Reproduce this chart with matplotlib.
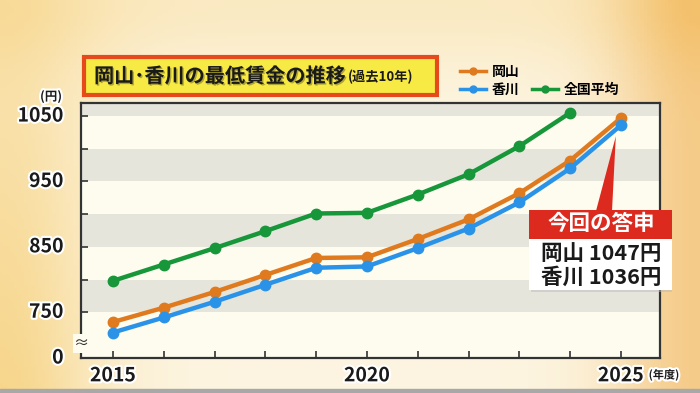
import numpy as np
import matplotlib
matplotlib.use("Agg")
import matplotlib.pyplot as plt
from matplotlib.patches import Rectangle, Polygon
from matplotlib.lines import Line2D
import matplotlib.patheffects as pe

plt.rcParams['font.family'] = ['Noto Sans CJK JP', 'DejaVu Sans']

# data: minimum wage (yen) per fiscal year
years = [2015, 2016, 2017, 2018, 2019, 2020, 2021, 2022, 2023, 2024, 2025]
okayama = [735, 757, 781, 807, 833, 834, 862, 892, 932, 982, 1047]
kagawa = [719, 742, 766, 792, 818, 820, 848, 878, 918, 970, 1036]
national_years = [2015, 2016, 2017, 2018, 2019, 2020, 2021, 2022, 2023, 2024]
national = [798, 823, 848, 874, 901, 902, 930, 961, 1004, 1055]

ytick_vals = [680, 750, 850, 950, 1050]
ytick_labels = ['0', '750', '850', '950', '1050']
xtick_labels = {2015: '2015', 2020: '2020', 2025: '2025'}

c_oka = '#e07a1e'
c_kag = '#2a93e8'
c_nat = '#17963a'

W, H = 700, 393
fig = plt.figure(figsize=(W / 100, H / 100), dpi=100)

def fx(px):
    return px / W

def fy(py):
    return 1 - py / H

# warm blurred background
bg = fig.add_axes([0, 0, 1, 1], zorder=-10)
gx = np.linspace(0, 1, 200)
gy = np.linspace(0, 1, 120)
X, Y = np.meshgrid(gx, gy)
base = np.array([0.99, 0.96, 0.88])
warm_l = np.array([0.97, 0.84, 0.55])
warm_r = np.array([0.96, 0.78, 0.50])
wl = np.exp(-((X - 0.0) ** 2) / 0.02) * (0.5 + 0.5 * Y)
wr = np.exp(-((X - 1.0) ** 2) / 0.015) * 0.9
wt = np.exp(-((Y - 0.0) ** 2) / 0.03) * 0.35
img = base[None, None, :] * (1 - wl - wr - wt)[..., None] \
    + warm_l[None, None, :] * (wl + wt)[..., None] + warm_r[None, None, :] * wr[..., None]
img = np.clip(img, 0, 1)
bg.imshow(img, aspect='auto', extent=[0, 1, 0, 1], origin='upper')
bg.axis('off')
bg.add_patch(Rectangle((0, 0), 1, fy(389), color='#a8a8a8', transform=bg.transAxes))

ax = fig.add_axes([fx(81), fy(358), fx(660) - fx(81), fy(103) - fy(358)])
ax.set_facecolor('#fdfcef')
ax.set_xlim(2014.37, 2025.77)
ax.set_ylim(680, 1070)

# grey bands
for lo in [750, 850, 950, 1050]:
    ax.axhspan(lo, lo + 50, color='#e6e5dc', lw=0, zorder=0)

lw = 3.2
ms = 7.5
ax.plot(national_years, national, color=c_nat, lw=lw, marker='o', ms=ms, zorder=3)
ax.plot(years, okayama, color=c_oka, lw=lw, marker='o', ms=ms, zorder=4)
ax.plot(years, kagawa, color=c_kag, lw=lw, marker='o', ms=ms, zorder=5)

for s in ax.spines.values():
    s.set_color('#333333')
    s.set_linewidth(1.6)

stroke = [pe.withStroke(linewidth=3, foreground='white')]
ax.set_xticks(years)
ax.set_xticklabels([xtick_labels.get(y, '') for y in years], fontsize=14,
                   fontweight='bold', color='#1a1a1a')
ax.set_yticks(list(range(700, 1070, 50)))
ax.set_yticklabels([])
ax.tick_params(axis='both', direction='in', length=5, width=1.2, color='#333333')
ax.tick_params(axis='x', pad=6)
for t in ax.get_xticklabels():
    t.set_path_effects(stroke)
for v, lab in zip(ytick_vals, ytick_labels):
    ax.text(-0.03, (v - 680) / 390, lab, transform=ax.transAxes, ha='right', va='center',
            fontsize=14, fontweight='bold', color='#1a1a1a', path_effects=stroke)
ax.text(2014.37, 702, '≈', ha='center', va='center', fontsize=11, color='#333333',
        bbox=dict(boxstyle='square,pad=0.05', fc='#fdfcef', ec='none'), zorder=6, clip_on=False)

fig.text(fx(51), fy(97), '(円)', ha='center', va='center', fontsize=9, fontweight='bold',
         color='#1a1a1a', path_effects=stroke)
fig.text(fx(664), fy(375), '(年度)', ha='center', va='center', fontsize=8, fontweight='bold',
         color='#1a1a1a', path_effects=stroke)

# title box
fig.patches.append(Rectangle((fx(84), fy(95)), fx(437) - fx(84), fy(57) - fy(95),
                             transform=fig.transFigure, fc='#f8ea45', ec='#e64a1c', lw=3))
t1 = fig.text(fx(94), fy(76), '岡山･香川の最低賃金の推移', ha='left', va='center',
              fontsize=14.5, fontweight='bold', color='#1a1a1a',
              path_effects=[pe.withSimplePatchShadow(offset=(1, -1), alpha=0.3)])
fig.canvas.draw()
ext = t1.get_window_extent()
fig.text(ext.x1 / W + 0.003, fy(77), '(過去10年)', ha='left', va='center', fontsize=9.5,
         fontweight='bold', color='#1a1a1a')

# legend
handles = [
    Line2D([], [], color=c_oka, lw=2.5, marker='o', ms=5),
    Line2D([], [], color=c_kag, lw=2.5, marker='o', ms=5),
    Line2D([], [], color='none'),
    Line2D([], [], color=c_nat, lw=2.5, marker='o', ms=5),
]
labels = ['岡山', '香川', '', '全国平均']
leg = fig.legend(handles, labels, ncol=2, loc='upper left', bbox_to_anchor=(fx(447), fy(52)),
                 frameon=False, handlelength=1.9, handletextpad=0.4, columnspacing=0.9,
                 labelspacing=0.3, prop=dict(size=10, weight='bold'))

# annotation callout
fig.patches.append(Rectangle((fx(531), fy(292)), fx(672) - fx(531), fy(239) - fy(292),
                             transform=fig.transFigure, fc='#bbbbbb', ec='none', alpha=0.5))
fig.patches.append(Rectangle((fx(529), fy(290)), fx(672) - fx(529), fy(239) - fy(290),
                             transform=fig.transFigure, fc='white', ec='none'))
fig.patches.append(Rectangle((fx(529), fy(239)), fx(672) - fx(529), fy(210) - fy(239),
                             transform=fig.transFigure, fc='#dd2a1f', ec='none'))
tip = fig.transFigure.inverted().transform(ax.transData.transform((2024.9, 1019)))
fig.patches.append(Polygon([(fx(596), fy(211)), (fx(612), fy(211)), tuple(tip)],
                           closed=True, transform=fig.transFigure, fc='#dd2a1f', ec='none'))
fig.text(fx(601), fy(224), '今回の答申', ha='center', va='center', fontsize=15.5,
         fontweight='bold', color='white')
fig.text(fx(601), fy(253), '岡山 1047円', ha='center', va='center', fontsize=15.5,
         fontweight='bold', color='#1a1a1a')
fig.text(fx(601), fy(277), '香川 1036円', ha='center', va='center', fontsize=15.5,
         fontweight='bold', color='#1a1a1a')

fig.savefig('out.png', dpi=100)
